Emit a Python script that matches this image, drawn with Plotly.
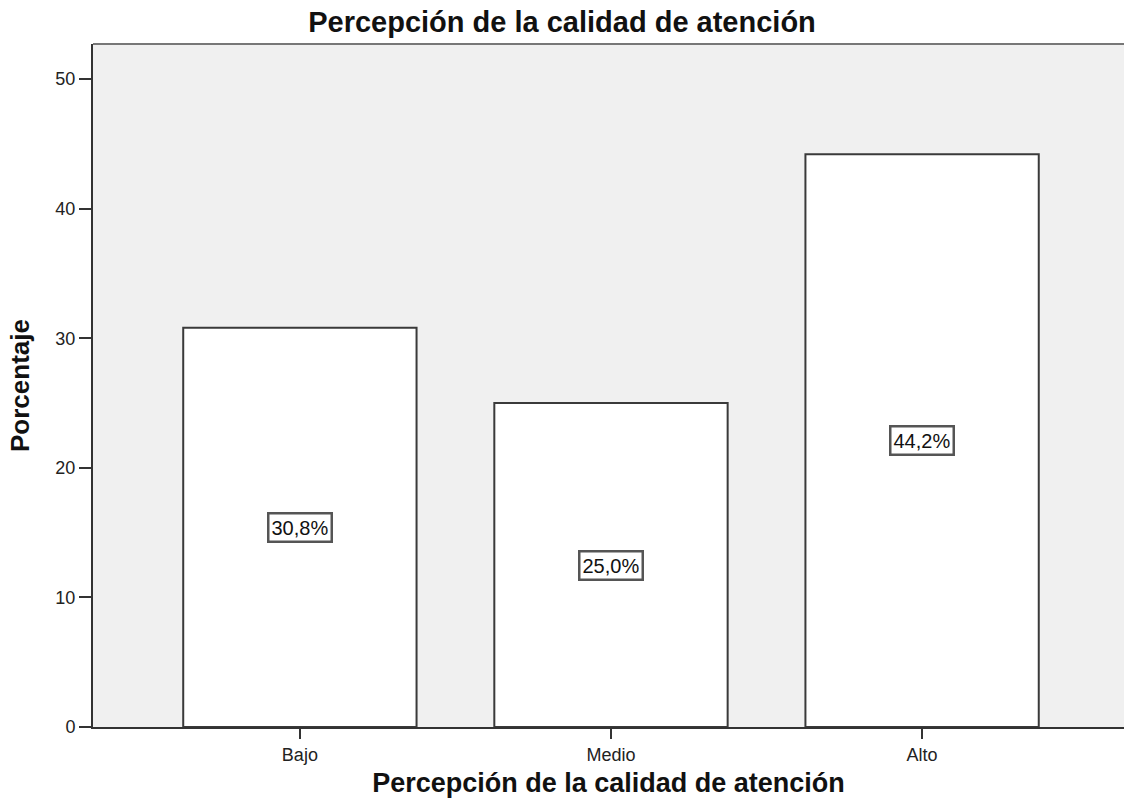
import plotly.graph_objects as go

# Niveles de percepción y porcentajes
categorias = ["Bajo", "Medio", "Alto"]
porcentajes = [30.8, 25.0, 44.2]
etiquetas = ["30,8%", "25,0%", "44,2%"]
y_ticks = [0, 10, 20, 30, 40, 50]

FONT = "Liberation Sans, Arial, sans-serif"

fig = go.Figure()
fig.add_trace(go.Bar(
    x=categorias,
    y=porcentajes,
    width=0.75,
    marker=dict(color="white", line=dict(color="#3a3a3a", width=2)),
    hoverinfo="skip",
))

# Etiquetas con recuadro a media altura de cada barra
for cat, val, txt in zip(categorias, porcentajes, etiquetas):
    fig.add_annotation(
        x=cat, y=val / 2, text=txt, showarrow=False,
        font=dict(family=FONT, size=20, color="#111111"),
        bgcolor="white", bordercolor="#555555", borderwidth=2.5, borderpad=2,
    )

# Línea superior del marco
fig.add_shape(type="line", xref="paper", yref="paper", x0=0, x1=1, y0=1, y1=1,
              line=dict(color="#777777", width=2))

fig.update_layout(
    width=1124, height=807,
    margin=dict(l=93, r=0, t=44, b=80),
    paper_bgcolor="white",
    plot_bgcolor="#f0f0f0",
    showlegend=False,
    font=dict(family=FONT, color="#111111"),
    title=dict(text="<b>Percepción de la calidad de atención</b>",
               x=0.5, xref="container", y=1 - 22 / 807, yref="container",
               xanchor="center", yanchor="middle",
               font=dict(family=FONT, size=29, color="#111111")),
)
fig.update_xaxes(
    range=[-0.665, 2.649],
    showline=True, linecolor="#333333", linewidth=2,
    ticks="outside", ticklen=10, tickwidth=2, tickcolor="#333333",
    tickfont=dict(family=FONT, size=18, color="#222222"),
    showgrid=False, zeroline=False,
    title=dict(text="<b>Percepción de la calidad de atención</b>",
               font=dict(family=FONT, size=27, color="#111111"), standoff=10),
)
fig.update_yaxes(
    range=[0, 52.7],
    tickvals=y_ticks,
    showline=True, linecolor="#333333", linewidth=2,
    ticks="outside", ticklen=12, tickwidth=2, tickcolor="#333333",
    tickfont=dict(family=FONT, size=18, color="#222222"),
    showgrid=False, zeroline=False,
    title=dict(text="<b>Porcentaje</b>",
               font=dict(family=FONT, size=26, color="#111111"), standoff=18),
)

fig.write_html("out.html")
